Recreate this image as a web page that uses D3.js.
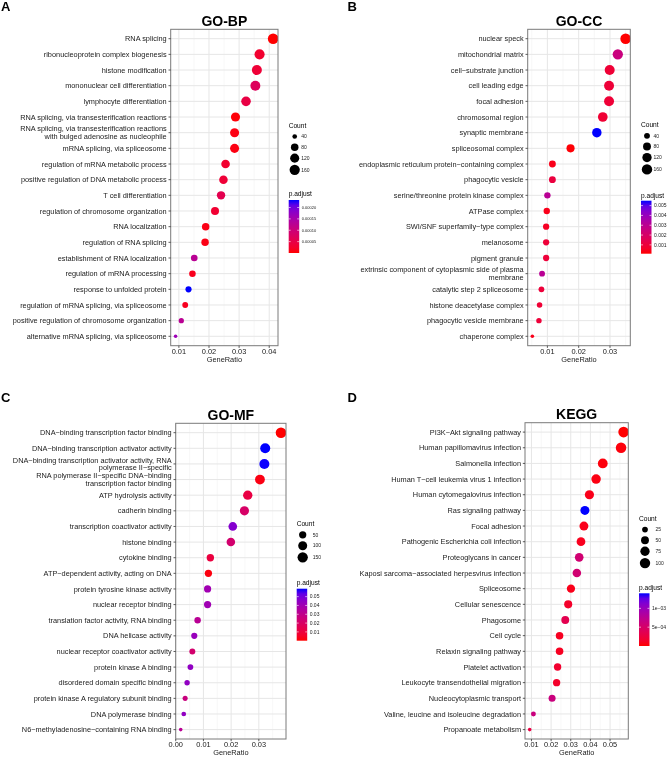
<!DOCTYPE html>
<html>
<head>
<meta charset="utf-8">
<script src="https://cdn.jsdelivr.net/npm/d3@7"></script>
<style>
  body { margin: 0; background: #fff; }
  svg { -webkit-font-smoothing: antialiased; will-change: transform; }
  svg text { font-family: "Liberation Sans", Arial, sans-serif; }
</style>
</head>
<body>
<div class="figure"></div>
<script>
// ------------------------------------------------------
// GO-BP
const bpTerms = [
    'RNA splicing', 'ribonucleoprotein complex biogenesis', 'histone modification',
    'mononuclear cell differentiation', 'lymphocyte differentiation',
    'RNA splicing, via transesterification reactions',
    'RNA splicing, via transesterification reactions\nwith bulged adenosine as nucleophile',
    'mRNA splicing, via spliceosome', 'regulation of mRNA metabolic process',
    'positive regulation of DNA metabolic process', 'T cell differentiation',
    'regulation of chromosome organization', 'RNA localization', 'regulation of RNA splicing',
    'establishment of RNA localization', 'regulation of mRNA processing',
    'response to unfolded protein', 'regulation of mRNA splicing, via spliceosome',
    'positive regulation of chromosome organization', 'alternative mRNA splicing, via spliceosome'
];
const bpRatio = [0.0413, 0.0368, 0.0359, 0.0354, 0.0323, 0.0288, 0.0285, 0.0285, 0.0255, 0.0248,
    0.0240, 0.0220, 0.0189, 0.0187, 0.0151, 0.0145, 0.0132, 0.0121, 0.0108, 0.0089];
const bpCount = [173, 155, 151, 149, 136, 121, 120, 120, 107, 104, 101, 92, 79, 79, 63, 61, 55, 51, 45, 37];
const bpPadj = [0.00000002, 0.000028, 0.000035, 0.000070, 0.000047, 0.000003, 0.000007, 0.000007, 0.000028, 0.000035,
    0.000058, 0.000030, 0.000009, 0.000009, 0.000128, 0.000014, 0.000233, 0.000016, 0.000128, 0.000163];
const bpXTicks = [0.01, 0.02, 0.03, 0.04];
const bpSizeBreaks = [40, 80, 120, 160];
const bpColorBreaks = [0.00005, 0.00010, 0.00015, 0.00020];
// ------------------------------------------------------
// GO-CC
const ccTerms = [
    'nuclear speck', 'mitochondrial matrix', 'cell\u2212substrate junction', 'cell leading edge',
    'focal adhesion', 'chromosomal region', 'synaptic membrane', 'spliceosomal complex',
    'endoplasmic reticulum protein\u2212containing complex', 'phagocytic vesicle',
    'serine/threonine protein kinase complex', 'ATPase complex', 'SWI/SNF superfamily\u2212type complex',
    'melanosome', 'pigment granule',
    'extrinsic component of cytoplasmic side of plasma\nmembrane',
    'catalytic step 2 spliceosome', 'histone deacetylase complex', 'phagocytic vesicle membrane',
    'chaperone complex'
];
const ccRatio = [0.0350, 0.0325, 0.0299, 0.0297, 0.0297, 0.0277, 0.0258, 0.0174, 0.0116, 0.0116,
    0.0100, 0.0098, 0.0096, 0.0096, 0.0096, 0.0083, 0.0081, 0.0075, 0.0073, 0.0052];
const ccCount = [168, 156, 144, 143, 143, 133, 124, 84, 56, 56, 48, 47, 46, 46, 46, 40, 39, 36, 35, 25];
const ccPadj = [0.00010, 0.00253, 0.00088, 0.00093, 0.00090, 0.00085, 0.00550, 0.00015, 0.00037, 0.00107,
    0.00307, 0.00037, 0.00053, 0.00095, 0.00096, 0.00307, 0.00098, 0.00087, 0.00094, 0.00037];
const ccXTicks = [0.01, 0.02, 0.03];
const ccSizeBreaks = [40, 80, 120, 160];
const ccColorBreaks = [0.001, 0.002, 0.003, 0.004, 0.005];
// ------------------------------------------------------
// GO-MF
const mfTerms = [
    'DNA\u2212binding transcription factor binding', 'DNA\u2212binding transcription activator activity',
    'DNA\u2212binding transcription activator activity, RNA\npolymerase II\u2212specific',
    'RNA polymerase II\u2212specific DNA\u2212binding\ntranscription factor binding',
    'ATP hydrolysis activity', 'cadherin binding', 'transcription coactivator activity',
    'histone binding', 'cytokine binding', 'ATP\u2212dependent activity, acting on DNA',
    'protein tyrosine kinase activity', 'nuclear receptor binding',
    'translation factor activity, RNA binding', 'DNA helicase activity',
    'nuclear receptor coactivator activity', 'protein kinase A binding',
    'disordered domain specific binding', 'protein kinase A regulatory subunit binding',
    'DNA polymerase binding', 'N6\u2212methyladenosine\u2212containing RNA binding'
];
const mfRatio = [0.0380, 0.0323, 0.0320, 0.0304, 0.0260, 0.0248, 0.0206, 0.0199, 0.0125, 0.0118,
    0.0115, 0.0115, 0.0079, 0.0067, 0.0060, 0.0053, 0.0041, 0.0034, 0.0029, 0.0018];
const mfCount = [163, 139, 138, 131, 112, 107, 89, 86, 54, 51, 49, 49, 34, 29, 26, 23, 18, 15, 12, 8];
const mfPadj = [0.00001, 0.0590, 0.0588, 0.0020, 0.0118, 0.0207, 0.0472, 0.0224, 0.0106, 0.0015,
    0.0401, 0.0403, 0.0325, 0.0425, 0.0224, 0.0443, 0.0442, 0.0266, 0.0441, 0.0325];
const mfXTicks = [0.00, 0.01, 0.02, 0.03];
const mfSizeBreaks = [50, 100, 150];
const mfColorBreaks = [0.01, 0.02, 0.03, 0.04, 0.05];
// ------------------------------------------------------
// KEGG
const keggTerms = [
    'PI3K\u2212Akt signaling pathway', 'Human papillomavirus infection', 'Salmonella infection',
    'Human T\u2212cell leukemia virus 1 infection', 'Human cytomegalovirus infection',
    'Ras signaling pathway', 'Focal adhesion', 'Pathogenic Escherichia coli infection',
    'Proteoglycans in cancer', 'Kaposi sarcoma\u2212associated herpesvirus infection',
    'Spliceosome', 'Cellular senescence', 'Phagosome', 'Cell cycle', 'Relaxin signaling pathway',
    'Platelet activation', 'Leukocyte transendothelial migration', 'Nucleocytoplasmic transport',
    'Valine, leucine and isoleucine degradation', 'Propanoate metabolism'
];
const keggRatio = [0.0569, 0.0556, 0.0463, 0.0429, 0.0395, 0.0372, 0.0367, 0.0352, 0.0343, 0.0331,
    0.0301, 0.0287, 0.0272, 0.0243, 0.0243, 0.0233, 0.0228, 0.0205, 0.0110, 0.0091];
const keggCount = [105, 103, 86, 79, 73, 69, 68, 65, 63, 61, 56, 53, 50, 45, 45, 43, 42, 38, 20, 17];
const keggPadj = [0.0000001, 0.000028, 0.000028, 0.000042, 0.000070, 0.001400, 0.000070, 0.000084, 0.000560, 0.000560,
    0.000070, 0.000140, 0.000350, 0.000098, 0.000098, 0.000168, 0.000140, 0.000630, 0.000630, 0.000280];
const keggXTicks = [0.01, 0.02, 0.03, 0.04, 0.05];
const keggSizeBreaks = [25, 50, 75, 100];
const keggColorBreaks = [0.0005, 0.0010];
// ------------------------------------------------------
const width = 669;
const height = 757;
const rMin = 1.8;
const rMax = 5.3;
const labelFont = 7.35;
// ------------------------------------------------------
const panels = [
    { letter: 'A', title: 'GO-BP', terms: bpTerms, ratio: bpRatio, count: bpCount, padj: bpPadj,
      xTicks: bpXTicks, sizeBreaks: bpSizeBreaks, colorBreaks: bpColorBreaks, colorFormat: d3.format( '.5f' ),
      colorLabelSize: 4,
      left: 170.7, right: 278, top: 29.3, bottom: 345.7, letterX: 1, letterY: 11,
      countY: 125.7, countLabelDx: 6.5, padjY: 194, barTop: 200, barBottom: 253 },
    { letter: 'B', title: 'GO-CC', terms: ccTerms, ratio: ccRatio, count: ccCount, padj: ccPadj,
      xTicks: ccXTicks, sizeBreaks: ccSizeBreaks, colorBreaks: ccColorBreaks, colorFormat: d3.format( '.3f' ),
      colorLabelSize: 5,
      left: 527.7, right: 630.3, top: 29.3, bottom: 345.7, letterX: 347.5, letterY: 11,
      countY: 125, countLabelDx: 6.5, padjY: 195.3, barTop: 200.7, barBottom: 253.7 },
    { letter: 'C', title: 'GO-MF', terms: mfTerms, ratio: mfRatio, count: mfCount, padj: mfPadj,
      xTicks: mfXTicks, sizeBreaks: mfSizeBreaks, colorBreaks: mfColorBreaks, colorFormat: d3.format( '.2f' ),
      colorLabelSize: 5,
      left: 175.7, right: 286, top: 423.3, bottom: 739, letterX: 1, letterY: 401.7,
      countY: 524, countLabelDx: 10, padjY: 582.7, barTop: 588.7, barBottom: 640.7 },
    { letter: 'D', title: 'KEGG', terms: keggTerms, ratio: keggRatio, count: keggCount, padj: keggPadj,
      xTicks: keggXTicks, sizeBreaks: keggSizeBreaks, colorBreaks: keggColorBreaks,
      colorFormat: function ( v ) { return d3.format( '.0e' )( v ).replace( /e-(\d)$/, 'e\u22120$1' ); },
      colorLabelSize: 5,
      left: 525, right: 628.3, top: 422.7, bottom: 739, letterX: 347.5, letterY: 401.7,
      countY: 518.7, countLabelDx: 10.5, padjY: 587.3, barTop: 593.3, barBottom: 646 }
];
// ------------------------------------------------------
function expand( ext ) {
    const pad = ( ext[1] - ext[0] ) * 0.05;
    return [ ext[0] - pad, ext[1] + pad ];
}
// ------------------------------------------------------
function drawPanel( svg, p, idx ) {
    const g = svg.append( 'g' ).classed( 'panel', true );
    const x = d3.scaleLinear()
        .domain( expand( d3.extent( p.ratio ) ) )
        .range( [ p.left, p.right ] );
    const y = d3.scalePoint()
        .domain( p.terms )
        .range( [ p.top, p.bottom ] )
        .padding( 0.6 );
    const color = d3.scaleLinear()
        .domain( d3.extent( p.padj ) )
        .range( [ 'red', 'blue' ] )
        .interpolate( d3.interpolateLab );
    const sizeT = d3.scaleLinear()
        .domain( d3.extent( p.count ) )
        .range( [ 0, 1 ] );
    const radius = function ( c ) {
        return rMin + ( rMax - rMin ) * Math.sqrt( Math.max( 0, sizeT( c ) ) );
    };
    // --------------------------------------------------
    const dom = x.domain();
    const majors = p.xTicks;
    const step = majors[1] - majors[0];
    const minors = [];
    for ( let t = majors[0] - step / 2; t <= dom[1]; t += step ) {
        if ( t >= dom[0] ) minors.push( t );
    }
    // --------------------------------------------------
    g.append( 'rect' )
        .attr( 'x', p.left ).attr( 'y', p.top )
        .attr( 'width', p.right - p.left ).attr( 'height', p.bottom - p.top )
        .attr( 'fill', '#fff' );
    g.selectAll( '.minor' ).data( minors ).enter().append( 'line' )
        .attr( 'x1', function ( d ) { return x( d ); } ).attr( 'x2', function ( d ) { return x( d ); } )
        .attr( 'y1', p.top ).attr( 'y2', p.bottom )
        .attr( 'stroke', '#f2f2f2' ).attr( 'stroke-width', 0.6 );
    g.selectAll( '.vmajor' ).data( majors ).enter().append( 'line' )
        .attr( 'x1', function ( d ) { return x( d ); } ).attr( 'x2', function ( d ) { return x( d ); } )
        .attr( 'y1', p.top ).attr( 'y2', p.bottom )
        .attr( 'stroke', '#e6e6e6' ).attr( 'stroke-width', 1 );
    g.selectAll( '.hmajor' ).data( p.terms ).enter().append( 'line' )
        .attr( 'x1', p.left ).attr( 'x2', p.right )
        .attr( 'y1', function ( d ) { return y( d ); } ).attr( 'y2', function ( d ) { return y( d ); } )
        .attr( 'stroke', '#e6e6e6' ).attr( 'stroke-width', 1 );
    // --------------------------------------------------
    const clipId = 'clip' + idx;
    g.append( 'clipPath' ).attr( 'id', clipId ).append( 'rect' )
        .attr( 'x', p.left ).attr( 'y', p.top )
        .attr( 'width', p.right - p.left ).attr( 'height', p.bottom - p.top );
    g.append( 'g' ).attr( 'clip-path', 'url(#' + clipId + ')' )
        .selectAll( 'circle' ).data( p.terms ).enter().append( 'circle' )
        .attr( 'cx', function ( d, i ) { return x( p.ratio[i] ); } )
        .attr( 'cy', function ( d ) { return y( d ); } )
        .attr( 'r', function ( d, i ) { return radius( p.count[i] ); } )
        .attr( 'fill', function ( d, i ) { return color( p.padj[i] ); } );
    g.append( 'rect' )
        .attr( 'x', p.left ).attr( 'y', p.top )
        .attr( 'width', p.right - p.left ).attr( 'height', p.bottom - p.top )
        .attr( 'fill', 'none' ).attr( 'stroke', '#7a7a7a' ).attr( 'stroke-width', 1 );
    // --------------------------------------------------
    // y axis
    g.selectAll( '.ytick' ).data( p.terms ).enter().append( 'line' )
        .attr( 'x1', p.left - 2.2 ).attr( 'x2', p.left )
        .attr( 'y1', function ( d ) { return y( d ); } ).attr( 'y2', function ( d ) { return y( d ); } )
        .attr( 'stroke', '#333' ).attr( 'stroke-width', 0.8 );
    const yLabels = g.selectAll( '.ylabel' ).data( p.terms ).enter().append( 'text' )
        .attr( 'text-anchor', 'end' )
        .attr( 'font-size', labelFont + 'px' )
        .attr( 'fill', '#1a1a1a' );
    yLabels.each( function ( d ) {
        const lines = d.split( '\n' );
        const lh = labelFont * 1.05;
        const y0 = y( d ) - ( lines.length - 1 ) * lh / 2 + labelFont * 0.36;
        d3.select( this ).selectAll( 'tspan' ).data( lines ).enter().append( 'tspan' )
            .attr( 'x', p.left - 4 )
            .attr( 'y', function ( l, j ) { return y0 + j * lh; } )
            .text( function ( l ) { return l; } );
    });
    // --------------------------------------------------
    // x axis
    g.selectAll( '.xtick' ).data( majors ).enter().append( 'line' )
        .attr( 'x1', function ( d ) { return x( d ); } ).attr( 'x2', function ( d ) { return x( d ); } )
        .attr( 'y1', p.bottom ).attr( 'y2', p.bottom + 2.2 )
        .attr( 'stroke', '#333' ).attr( 'stroke-width', 0.8 );
    g.selectAll( '.xlabel' ).data( majors ).enter().append( 'text' )
        .attr( 'x', function ( d ) { return x( d ); } )
        .attr( 'y', p.bottom + 8 )
        .attr( 'text-anchor', 'middle' )
        .attr( 'font-size', '7.4px' )
        .attr( 'fill', '#1a1a1a' )
        .text( d3.format( '.2f' ) );
    g.append( 'text' )
        .attr( 'x', ( p.left + p.right ) / 2 )
        .attr( 'y', p.bottom + 16.2 )
        .attr( 'text-anchor', 'middle' )
        .attr( 'font-size', '7.4px' )
        .attr( 'fill', '#1a1a1a' )
        .text( 'GeneRatio' );
    // --------------------------------------------------
    g.append( 'text' )
        .attr( 'x', ( p.left + p.right ) / 2 )
        .attr( 'y', p.top - 3.5 )
        .attr( 'text-anchor', 'middle' )
        .attr( 'font-size', '14px' )
        .attr( 'font-weight', 'bold' )
        .text( p.title );
    g.append( 'text' )
        .attr( 'x', p.letterX )
        .attr( 'y', p.letterY )
        .attr( 'font-size', '13px' )
        .attr( 'font-weight', 'bold' )
        .text( p.letter );
    // --------------------------------------------------
    // Count legend
    const lx = p.right + 10.7;
    g.append( 'text' )
        .attr( 'x', lx ).attr( 'y', p.countY + 2.3 )
        .attr( 'font-size', '6.6px' )
        .text( 'Count' );
    let cy = p.countY + 5.5;
    let prevH = 0;
    p.sizeBreaks.forEach( function ( b, i ) {
        const r = radius( b );
        const h = Math.max( 10.7, 2 * r + 2 );
        cy += ( i === 0 ? h / 2 : ( prevH + h ) / 2 );
        prevH = h;
        g.append( 'circle' )
            .attr( 'cx', lx + 6 ).attr( 'cy', cy ).attr( 'r', r )
            .attr( 'fill', '#000' );
        g.append( 'text' )
            .attr( 'x', lx + 6 + p.countLabelDx ).attr( 'y', cy + 1.8 )
            .attr( 'font-size', '5px' )
            .attr( 'fill', '#222' )
            .text( b );
    });
    // --------------------------------------------------
    // p.adjust colour bar
    g.append( 'text' )
        .attr( 'x', lx ).attr( 'y', p.padjY + 2.3 )
        .attr( 'font-size', '6.6px' )
        .text( 'p.adjust' );
    const barW = 10.5;
    const gradId = 'grad' + idx;
    const cdom = color.domain();
    const grad = g.append( 'defs' ).append( 'linearGradient' )
        .attr( 'id', gradId )
        .attr( 'x1', 0 ).attr( 'y1', 1 ).attr( 'x2', 0 ).attr( 'y2', 0 );
    grad.selectAll( 'stop' ).data( d3.range( 0, 1.0001, 0.1 ) ).enter().append( 'stop' )
        .attr( 'offset', function ( d ) { return d; } )
        .attr( 'stop-color', function ( d ) { return color( cdom[0] + d * ( cdom[1] - cdom[0] ) ); } );
    g.append( 'rect' )
        .attr( 'x', lx ).attr( 'y', p.barTop )
        .attr( 'width', barW ).attr( 'height', p.barBottom - p.barTop )
        .attr( 'fill', 'url(#' + gradId + ')' );
    const barScale = d3.scaleLinear().domain( cdom ).range( [ p.barBottom, p.barTop ] );
    p.colorBreaks.forEach( function ( b ) {
        const by = barScale( b );
        g.append( 'line' ).attr( 'x1', lx ).attr( 'x2', lx + 2 ).attr( 'y1', by ).attr( 'y2', by )
            .attr( 'stroke', '#fff' ).attr( 'stroke-width', 0.6 );
        g.append( 'line' ).attr( 'x1', lx + barW - 2 ).attr( 'x2', lx + barW ).attr( 'y1', by ).attr( 'y2', by )
            .attr( 'stroke', '#fff' ).attr( 'stroke-width', 0.6 );
        g.append( 'text' )
            .attr( 'x', lx + barW + 2.5 ).attr( 'y', by + p.colorLabelSize * 0.36 )
            .attr( 'font-size', p.colorLabelSize + 'px' )
            .attr( 'fill', '#222' )
            .text( p.colorFormat( b ) );
    });
}
// ------------------------------------------------------
window.addEventListener( 'load', function () {
    const svg = d3.select( '.figure' )
        .append( 'svg' )
        .attr( 'width', width )
        .attr( 'height', height );
    svg.append( 'rect' ).attr( 'width', width ).attr( 'height', height ).attr( 'fill', '#fff' );
    panels.forEach( function ( p, i ) {
        drawPanel( svg, p, i );
    });
}, false );
</script>
</body>
</html>
